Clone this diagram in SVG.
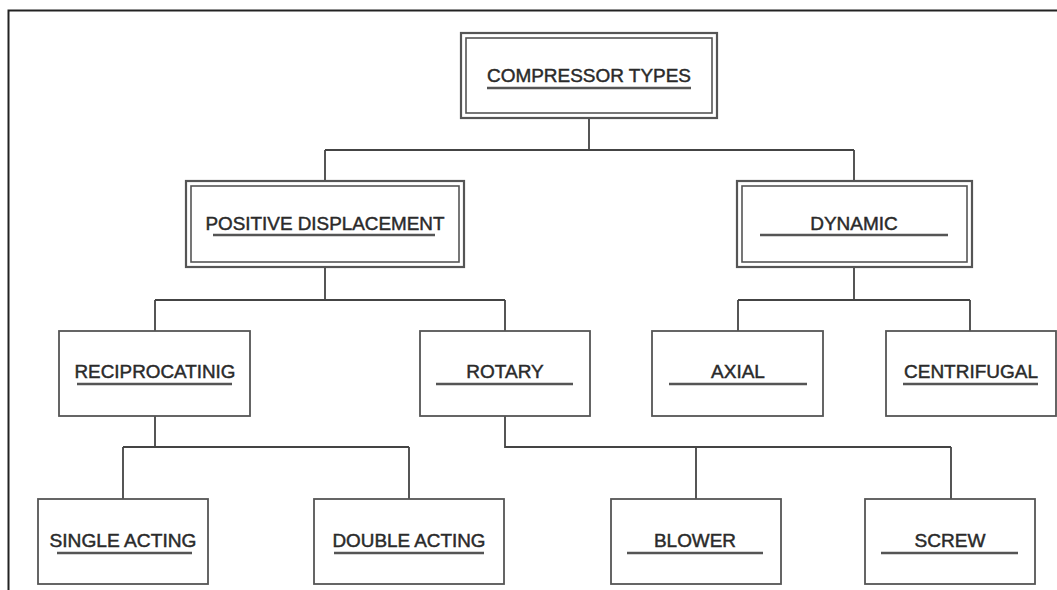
<svg xmlns="http://www.w3.org/2000/svg" width="1057" height="590" viewBox="0 0 1057 590">
<style>
.frame{fill:none;stroke:#222;stroke-width:2}
.outer{fill:#fff;stroke:#555;stroke-width:2.2}
.inner{fill:#fff;stroke:#555;stroke-width:1.6}
.box{fill:#fff;stroke:#555;stroke-width:1.8}
.conn{fill:none;stroke:#444;stroke-width:1.8}
.ul{stroke:#555;stroke-width:2.6}
.t{font-family:"Liberation Sans",Arial,sans-serif;font-size:19px;fill:#2a2a2a;stroke:#2a2a2a;stroke-width:0.45;text-anchor:middle}
.s{font-size:18px}
</style>
<rect width="1057" height="590" fill="#fff"/>
<polyline class="frame" points="8.5,590 8.5,10.5 1057,10.5"/>
<g id="connectors">
<path class="conn" d="M589,118V150M325,150H854M325,150V181M854,150V181"/>
<path class="conn" d="M325,267V300M155,300H505M155,300V331M505,300V331"/>
<path class="conn" d="M854,267V300M738,300H970M738,300V331M970,300V331"/>
<path class="conn" d="M155,416V447M123,447H409M123,447V499M409,447V499"/>
<path class="conn" d="M505,416V447H951M696,447V499M951,447V499"/>
</g>
<g id="compressor-types">
<rect class="outer" x="461" y="33" width="256" height="85"/>
<rect class="inner" x="466" y="38" width="246" height="75"/>
<text class="t" x="589" y="82" textLength="204" lengthAdjust="spacingAndGlyphs">COMPRESSOR TYPES</text>
<line class="ul" x1="487" y1="88" x2="691" y2="88"/>
</g>
<g id="positive-displacement">
<rect class="outer" x="186" y="181" width="278" height="86"/>
<rect class="inner" x="191" y="186" width="268" height="76"/>
<text class="t" x="325" y="230" textLength="239" lengthAdjust="spacingAndGlyphs">POSITIVE DISPLACEMENT</text>
<line class="ul" x1="213" y1="235" x2="435" y2="235"/>
</g>
<g id="dynamic">
<rect class="outer" x="737" y="181" width="235" height="86"/>
<rect class="inner" x="742" y="186" width="225" height="76"/>
<text class="t" x="854" y="230">DYNAMIC</text>
<line class="ul" x1="760" y1="235" x2="948" y2="235"/>
</g>
<g id="reciprocating">
<rect class="box" x="59" y="331" width="191" height="85"/>
<text class="t" x="155" y="378" textLength="161" lengthAdjust="spacingAndGlyphs">RECIPROCATINIG</text>
<line class="ul" x1="77" y1="384" x2="232" y2="384"/>
</g>
<g id="rotary">
<rect class="box" x="420" y="331" width="170" height="85"/>
<text class="t" x="505" y="378">ROTARY</text>
<line class="ul" x1="436" y1="384" x2="573" y2="384"/>
</g>
<g id="axial">
<rect class="box" x="652" y="331" width="171" height="85"/>
<text class="t" x="738" y="378">AXIAL</text>
<line class="ul" x1="669" y1="384" x2="807" y2="384"/>
</g>
<g id="centrifugal">
<rect class="box" x="886" y="331" width="170" height="85"/>
<text class="t" x="971" y="378" textLength="134" lengthAdjust="spacingAndGlyphs">CENTRIFUGAL</text>
<line class="ul" x1="903" y1="384" x2="1038" y2="384"/>
</g>
<g id="single-acting">
<rect class="box" x="38" y="499" width="170" height="85"/>
<text class="t s" x="123" y="547" textLength="147" lengthAdjust="spacingAndGlyphs">SINGLE ACTING</text>
<line class="ul" x1="57" y1="553" x2="192" y2="553"/>
</g>
<g id="double-acting">
<rect class="box" x="314" y="499" width="190" height="85"/>
<text class="t s" x="409" y="547" textLength="153" lengthAdjust="spacingAndGlyphs">DOUBLE ACTING</text>
<line class="ul" x1="334" y1="553" x2="484" y2="553"/>
</g>
<g id="blower">
<rect class="box" x="611" y="499" width="170" height="85"/>
<text class="t s" x="695" y="547" textLength="82" lengthAdjust="spacingAndGlyphs">BLOWER</text>
<line class="ul" x1="627" y1="553" x2="763" y2="553"/>
</g>
<g id="screw">
<rect class="box" x="865" y="499" width="170" height="85"/>
<text class="t s" x="950" y="547" textLength="71" lengthAdjust="spacingAndGlyphs">SCREW</text>
<line class="ul" x1="881" y1="553" x2="1018" y2="553"/>
</g>
</svg>
